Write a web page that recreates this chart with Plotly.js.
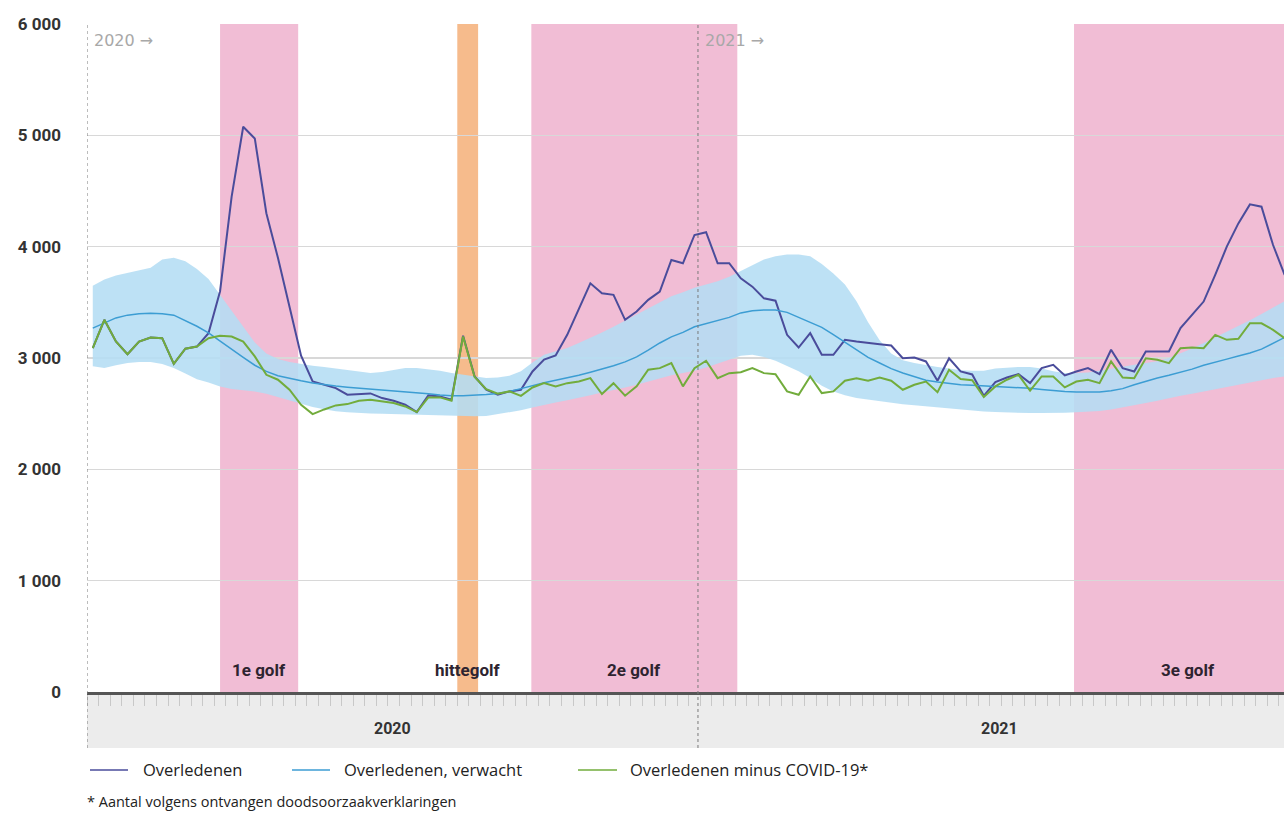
<!DOCTYPE html>
<html><head><meta charset="utf-8">
<script src="https://cdn.plot.ly/plotly-3.0.1.min.js"></script>
<style>html,body{margin:0;padding:0;overflow:hidden;background:#fff}#chart{width:1320px;height:814px}</style>
</head><body><div id="chart"></div>
<script>
// Weekly deaths, week 1 2020 (index 1) .. week 51 2021 (index 104)
const overledenen = [3088,3343,3148,3034,3148,3184,3178,2948,3083,3103,
 3223,3600,4450,5077,4972,4300,3900,3450,3020,2790,
 2762,2730,2670,2679,2682,2640,2616,2580,2514,2664,
 2655,2625,3200,2834,2715,2670,2700,2715,2879,2986,
 3022,3208,3447,3671,3581,3567,3343,3417,3522,3597,
 3881,3851,4105,4130,3851,3851,3716,3641,3536,3515,
 3208,3094,3223,3029,3029,3163,3148,3133,3124,3112,
 2998,3004,2969,2796,2998,2879,2852,2660,2783,2825,
 2855,2774,2909,2939,2843,2879,2909,2855,3074,2909,
 2879,3058,3058,3058,3268,3388,3507,3746,4000,4209,
 4380,4359,4015,3746];
const minusCovid = [3088,3343,3148,3034,3148,3184,3178,2948,3083,3103,
 3178,3199,3193,3148,3014,2849,2805,2715,2580,2496,
 2538,2574,2586,2616,2625,2610,2595,2565,2514,2646,
 2646,2616,3193,2830,2720,2680,2700,2660,2735,2774,
 2745,2774,2789,2819,2676,2774,2661,2745,2894,2909,
 2954,2745,2909,2975,2819,2864,2873,2909,2864,2855,
 2700,2670,2834,2685,2700,2796,2819,2796,2825,2796,
 2715,2760,2789,2693,2894,2812,2800,2650,2745,2805,
 2849,2706,2834,2834,2736,2789,2805,2774,2969,2825,
 2819,2998,2984,2954,3088,3094,3088,3208,3163,3172,
 3312,3312,3253,3178];
const verwacht = [3268,3315,3360,3385,3398,3402,3398,3385,3335,3285,
 3225,3150,3075,3005,2935,2880,2840,2815,2795,2775,
 2760,2748,2738,2730,2722,2716,2710,2700,2690,2680,
 2668,2660,2660,2665,2672,2682,2700,2725,2755,2778,
 2800,2820,2845,2872,2898,2930,2965,3010,3070,3135,
 3190,3230,3280,3310,3335,3365,3405,3425,3432,3432,
 3410,3365,3325,3275,3210,3140,3070,3005,2955,2905,
 2865,2830,2800,2785,2770,2760,2755,2750,2745,2740,
 2735,2728,2718,2706,2698,2694,2692,2695,2705,2725,
 2760,2792,2820,2845,2872,2900,2935,2965,2990,3018,
 3045,3080,3130,3185];
const verwachtBoven = [3650,3705,3740,3762,3785,3810,3885,3900,3870,3800,
 3710,3570,3425,3280,3140,3040,2990,2965,2948,2930,
 2920,2905,2890,2875,2865,2875,2895,2910,2910,2900,
 2885,2865,2850,2830,2820,2825,2840,2880,2960,3030,
 3060,3090,3135,3180,3230,3280,3335,3385,3440,3500,
 3555,3590,3630,3660,3690,3730,3780,3835,3885,3915,
 3930,3930,3915,3845,3760,3660,3510,3320,3160,3040,
 2980,2955,2935,2920,2905,2890,2885,2885,2905,2915,
 2920,2920,2905,2880,2865,2865,2870,2885,2905,2925,
 2940,2955,2970,3000,3040,3085,3135,3185,3240,3290,
 3340,3395,3450,3510];
const verwachtOnder = [2925,2910,2935,2955,2965,2965,2945,2910,2860,2810,
 2780,2745,2722,2710,2700,2680,2650,2615,2585,2560,
 2540,2522,2512,2505,2502,2500,2497,2494,2490,2485,
 2480,2476,2475,2476,2480,2495,2510,2530,2555,2580,
 2600,2620,2640,2665,2690,2710,2735,2760,2790,2820,
 2845,2865,2885,2915,2950,2990,3020,3030,3010,2975,
 2930,2880,2820,2750,2700,2665,2640,2625,2610,2595,
 2585,2575,2565,2555,2545,2535,2527,2520,2515,2510,
 2505,2505,2505,2505,2508,2512,2518,2525,2538,2555,
 2575,2595,2615,2640,2660,2680,2700,2720,2740,2760,
 2785,2805,2820,2835];

// periods (in week units from start of 2020)
const periodeNaam = ['1e golf','hittegolf','2e golf','3e golf'];
const periodeStart = [11.5, 32.0, 38.4, 85.3];
const periodeEind = [18.25, 33.8, 56.2, 105];
const jaren = ['2020','2021'];
const jaarStart = [0, 52.8];
const jaarEind = [52.8, 105];
const yTicks = [0,1000,2000,3000,4000,5000,6000];
const yTickText = ['0','1 000','2 000','3 000','4 000','5 000','6 000'];
const reeksNamen = ['Overledenen','Overledenen, verwacht','Overledenen minus COVID-19*'];

const x = overledenen.map((_, i) => i + 0.5);

const C_DARK = '#4a4c9b', C_EXP = '#3c9dd3', C_GREEN = '#72ac3c';
const PINK = '#f1bdd5', ORANGE = '#f6bb8c';

// pixel helpers (plot area: left 87, top 24, width 1215, height 668)
const PL = 87, PT = 24, PW = 1215, PH = 668;
const px = p => (p - PL) / PW;
const py = p => (PT + PH - p) / PH;

const traces = [
  {x: x, y: verwachtOnder, mode: 'lines', line: {width: 0}, hoverinfo: 'skip', showlegend: false},
  {x: x, y: verwachtBoven, mode: 'lines', line: {width: 0}, fill: 'tonexty',
   fillcolor: 'rgba(180,221,244,0.88)', hoverinfo: 'skip', showlegend: false},
  {x: x, y: overledenen, name: reeksNamen[0], mode: 'lines', line: {color: C_DARK, width: 2}, showlegend: false},
  {x: x, y: verwacht, name: reeksNamen[1], mode: 'lines', line: {color: C_EXP, width: 1.5}, showlegend: false},
  {x: x, y: minusCovid, name: reeksNamen[2], mode: 'lines', line: {color: C_GREEN, width: 2}, showlegend: false}
];

const shapes = [];
const annotations = [];
// axis band below plot
shapes.push({type: 'rect', xref: 'paper', yref: 'paper', x0: 0, x1: 1.1, y0: py(748), y1: 0,
  fillcolor: '#ececec', line: {width: 0}, layer: 'below'});
periodeNaam.forEach((n, i) => {
  shapes.push({type: 'rect', xref: 'x', yref: 'paper', x0: periodeStart[i], x1: periodeEind[i], y0: 0, y1: 1,
    fillcolor: n === 'hittegolf' ? ORANGE : PINK, line: {width: 0}, layer: 'below'});
  annotations.push({xref: 'x', yref: 'paper', x: (periodeStart[i] + periodeEind[i]) / 2, y: py(670),
    text: n, showarrow: false, xanchor: 'center', yanchor: 'middle',
    font: {family: 'Roboto', size: 17, weight: 700, color: '#2e2430'}});
});
// year dividers & labels
jaren.forEach((j, i) => {
  shapes.push({type: 'line', xref: 'x', yref: 'paper', x0: jaarStart[i], x1: jaarStart[i], y0: py(748), y1: 1,
    line: {color: '#7a7a7a', width: 1, dash: 'dot'}, layer: 'above'});
  annotations.push({xref: 'x', yref: 'paper', x: (jaarStart[i] + jaarEind[i]) / 2, y: py(728.5),
    text: j, showarrow: false, xanchor: 'center', yanchor: 'middle',
    font: {family: 'Roboto', size: 16, weight: 700, color: '#333'}});
  annotations.push({xref: 'x', yref: 'paper', x: jaarStart[i], xshift: 5, y: py(41),
    text: j + ' \u2192', showarrow: false, xanchor: 'left', yanchor: 'middle',
    font: {family: 'DejaVu Sans', size: 16, color: '#a8a8a8'}});
});
// legend (manual)
const legCol = [C_DARK, C_EXP, C_GREEN];
const legLine = [[90, 128], [292, 330], [578, 617]];
const legText = [143, 344, 630];
reeksNamen.forEach((n, i) => {
  shapes.push({type: 'line', xref: 'paper', yref: 'paper', x0: px(legLine[i][0]), x1: px(legLine[i][1]),
    y0: py(770), y1: py(770), line: {color: legCol[i], width: 1.5}});
  annotations.push({xref: 'paper', yref: 'paper', x: px(legText[i] - 2), y: py(769), text: n,
    showarrow: false, xanchor: 'left', yanchor: 'middle',
    font: {family: 'Open Sans', size: 16.5, color: '#222'}});
});
annotations.push({xref: 'paper', yref: 'paper', x: px(85), y: py(801),
  text: '* Aantal volgens ontvangen doodsoorzaakverklaringen', showarrow: false, xanchor: 'left', yanchor: 'middle',
  font: {family: 'Open Sans', size: 14.5, color: '#222'}});

const layout = {
  width: 1320, height: 814,
  margin: {l: PL, r: 1320 - PL - PW, t: PT, b: 814 - PT - PH},
  paper_bgcolor: '#fff', plot_bgcolor: 'rgba(0,0,0,0)',
  showlegend: false,
  xaxis: {range: [0, 105], showgrid: false, zeroline: false, showticklabels: false,
    tickmode: 'linear', tick0: 0, dtick: 1, ticks: 'outside', ticklen: 11, tickwidth: 1, tickcolor: '#c8c8c8',
    showline: true, linecolor: '#555', linewidth: 2.5},
  yaxis: {range: [0, 6000], tickmode: 'array', tickvals: yTicks, ticktext: yTickText,
    showgrid: true, gridcolor: '#d8d8d8', gridwidth: 1.5, zeroline: false, showline: false,
    ticks: '', ticklabelstandoff: 25,
    tickfont: {family: 'Roboto', size: 17, weight: 700, color: '#333'}},
  shapes: shapes, annotations: annotations
};
Plotly.newPlot('chart', traces, layout, {displayModeBar: false, staticPlot: true});
</script></body></html>
